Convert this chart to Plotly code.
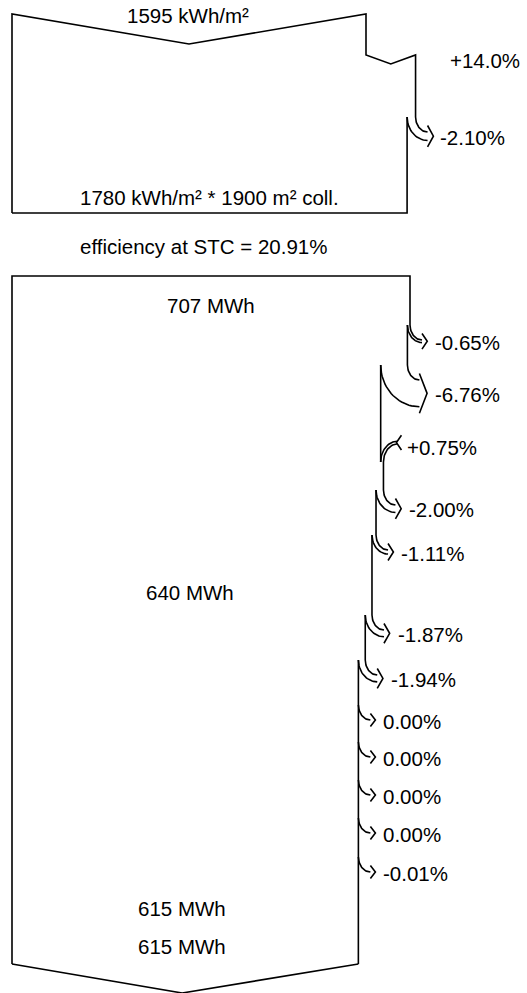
import numpy as np
import plotly.graph_objects as go

# ---------------- data ----------------
irr_horizontal = 1595          # kWh/m²
irr_collector = 1780           # kWh/m²
coll_area = 1900               # m²
top_step_pct = [14.0, -2.10]
top_step_txt = ["+14.0%", "-2.10%"]
stc_efficiency = 20.91         # %
energy_stc = 707               # MWh
energy_array = 640             # MWh
energy_out = [615, 615]        # MWh
loss_pct = [-0.65, -6.76, 0.75, -2.00, -1.11, -1.87, -1.94, 0.00, 0.00, 0.00, 0.00, -0.01]
loss_txt = ["-0.65%", "-6.76%", "+0.75%", "-2.00%", "-1.11%", "-1.87%", "-1.94%",
            "0.00%", "0.00%", "0.00%", "0.00%", "-0.01%"]

# ---------------- layout geometry (pixels) ----------------
W, H = 527, 993
X0 = 12
TOP_PX = 354 / irr_horizontal      # px per kWh/m²
LOW_PX = 398 / energy_stc          # px per MWh
TOP_Y, TOP_DIP, TOP_BOTTOM = 14, 30, 213
NOTCH_Y, NOTCH_DEPTH = 55, 9
TOP_LOSS_Y0 = 117
LOW_TOP = 276
LOW_BOTTOM, LOW_DIP = 964, 29
row_y = [325, 365, 462, 490, 535, 615, 660, 705, 742, 780, 818, 857]
FONT = dict(family="Liberation Sans, Arial, sans-serif", size=20.5, color="#000000")
LW = 1.6

segs = []       # list of polylines
texts = []      # (x, y, text, xanchor)


def quarter(cx, cy, rx, ry, up=False, n=24):
    t = np.linspace(0, np.pi / 2, n)
    xs = cx - rx * np.cos(t)
    ys = cy - ry * np.sin(t) if up else cy + ry * np.sin(t)
    return list(zip(xs, ys))


def loss_arrow(xo, xn, y0):
    w = xo - xn
    xb = xo + 12
    yh = y0 + 15 + 0.5 * w
    outer = quarter(xb, y0, xb - xo, yh - w / 2 - y0)
    inner = quarter(xb, y0, xb - xn, yh + w / 2 - y0)
    ext = 6.5
    tipx = xb + 5 + 0.1 * w
    head = [(xb, yh - w / 2 - ext), (tipx, yh), (xb, yh + w / 2 + ext)]
    segs.append(outer)
    if w > 0.5:
        segs.append(inner)
    segs.append(head)
    return tipx, yh


def gain_arrow(xo, xn, y1):
    w = xn - xo
    xb = xn + 14
    yh = y1 - 18 - w / 2
    outer = quarter(xb, y1, xb - xn, y1 - (yh + w / 2), up=True)
    inner = quarter(xb, y1, xb - xo, y1 - (yh - w / 2), up=True)
    head = [(xb + 4, yh - w / 2 - 6), (xb - 1, yh), (xb + 4, yh + w / 2 + 6)]
    segs.extend([outer, inner, head])
    return xb, yh


# ---------------- top diagram ----------------
v0 = irr_horizontal
xa = X0 + v0 * TOP_PX
v1 = v0 * (1 + top_step_pct[0] / 100)
xb1 = X0 + v1 * TOP_PX
v2 = v1 * (1 + top_step_pct[1] / 100)
xc = X0 + v2 * TOP_PX

segs.append([(X0, TOP_BOTTOM), (X0, TOP_Y), ((X0 + xa) / 2, TOP_Y + TOP_DIP), (xa, TOP_Y),
             (xa, NOTCH_Y), ((xa + xb1) / 2, NOTCH_Y + NOTCH_DEPTH), (xb1, NOTCH_Y),
             (xb1, TOP_LOSS_Y0)])
tx, ty = loss_arrow(xb1, xc, TOP_LOSS_Y0)
segs.append([(xc, TOP_LOSS_Y0), (xc, TOP_BOTTOM), (X0, TOP_BOTTOM)])

texts.append(((X0 + xa) / 2 - 1, 15, f"{irr_horizontal} kWh/m²", "center"))
texts.append((xb1 + 32, 60, top_step_txt[0], "left"))
texts.append((tx + 5, ty + 1, top_step_txt[1], "left"))
texts.append(((X0 + xc) / 2, 197, f"{irr_collector} kWh/m² * {coll_area} m² coll.", "center"))
texts.append((203, 246, f"efficiency at STC = {stc_efficiency:.2f}%", "center"))

# ---------------- lower diagram ----------------
xr = X0 + energy_stc * LOW_PX
segs.append([(X0, LOW_BOTTOM), (X0, LOW_TOP), (xr, LOW_TOP), (xr, row_y[0])])
val = energy_stc
x_cur = xr
for i, (p, lab) in enumerate(zip(loss_pct, loss_txt)):
    val_new = val * (1 + p / 100)
    x_new = X0 + val_new * LOW_PX
    y_start = row_y[i]
    y_end = row_y[i + 1] if i + 1 < len(row_y) else LOW_BOTTOM
    if p > 0:
        hx, hy = gain_arrow(x_cur, x_new, y_start)
        texts.append((hx + 8, hy + 5, lab, "left"))
    else:
        hx, hy = loss_arrow(x_cur, x_new, y_start)
        texts.append((hx + 6, hy + 1, lab, "left"))
    segs.append([(x_new, y_start), (x_new, y_end)])
    val, x_cur = val_new, x_new

vx = (X0 + x_cur) / 2 - 3
segs.append([(X0, LOW_BOTTOM), (vx, LOW_BOTTOM + LOW_DIP), (x_cur, LOW_BOTTOM)])

texts.append(((X0 + xr) / 2, 305, f"{energy_stc} MWh", "center"))
texts.append((190, 592, f"{energy_array} MWh", "center"))
texts.append((182, 908, f"{energy_out[0]} MWh", "center"))
texts.append((182, 946, f"{energy_out[1]} MWh", "center"))

# ---------------- figure ----------------
xs, ys = [], []
for s in segs:
    for (x, y) in s:
        xs.append(x)
        ys.append(y)
    xs.append(None)
    ys.append(None)

fig = go.Figure(go.Scatter(x=xs, y=ys, mode="lines", line=dict(color="#000000", width=LW),
                           hoverinfo="skip", showlegend=False))
for x, y, t, anc in texts:
    fig.add_annotation(x=x, y=y, text=t, showarrow=False, xanchor=anc, yanchor="middle",
                       font=FONT, xref="x", yref="y")

fig.update_layout(width=W, height=H, margin=dict(l=0, r=0, t=0, b=0),
                  paper_bgcolor="white", plot_bgcolor="white",
                  xaxis=dict(range=[0, W], visible=False, fixedrange=True),
                  yaxis=dict(range=[H, 0], visible=False, fixedrange=True))
fig.write_html("out.html", config={"displayModeBar": False},
               post_script="document.body.style.margin='0';document.body.style.overflow='hidden';")
